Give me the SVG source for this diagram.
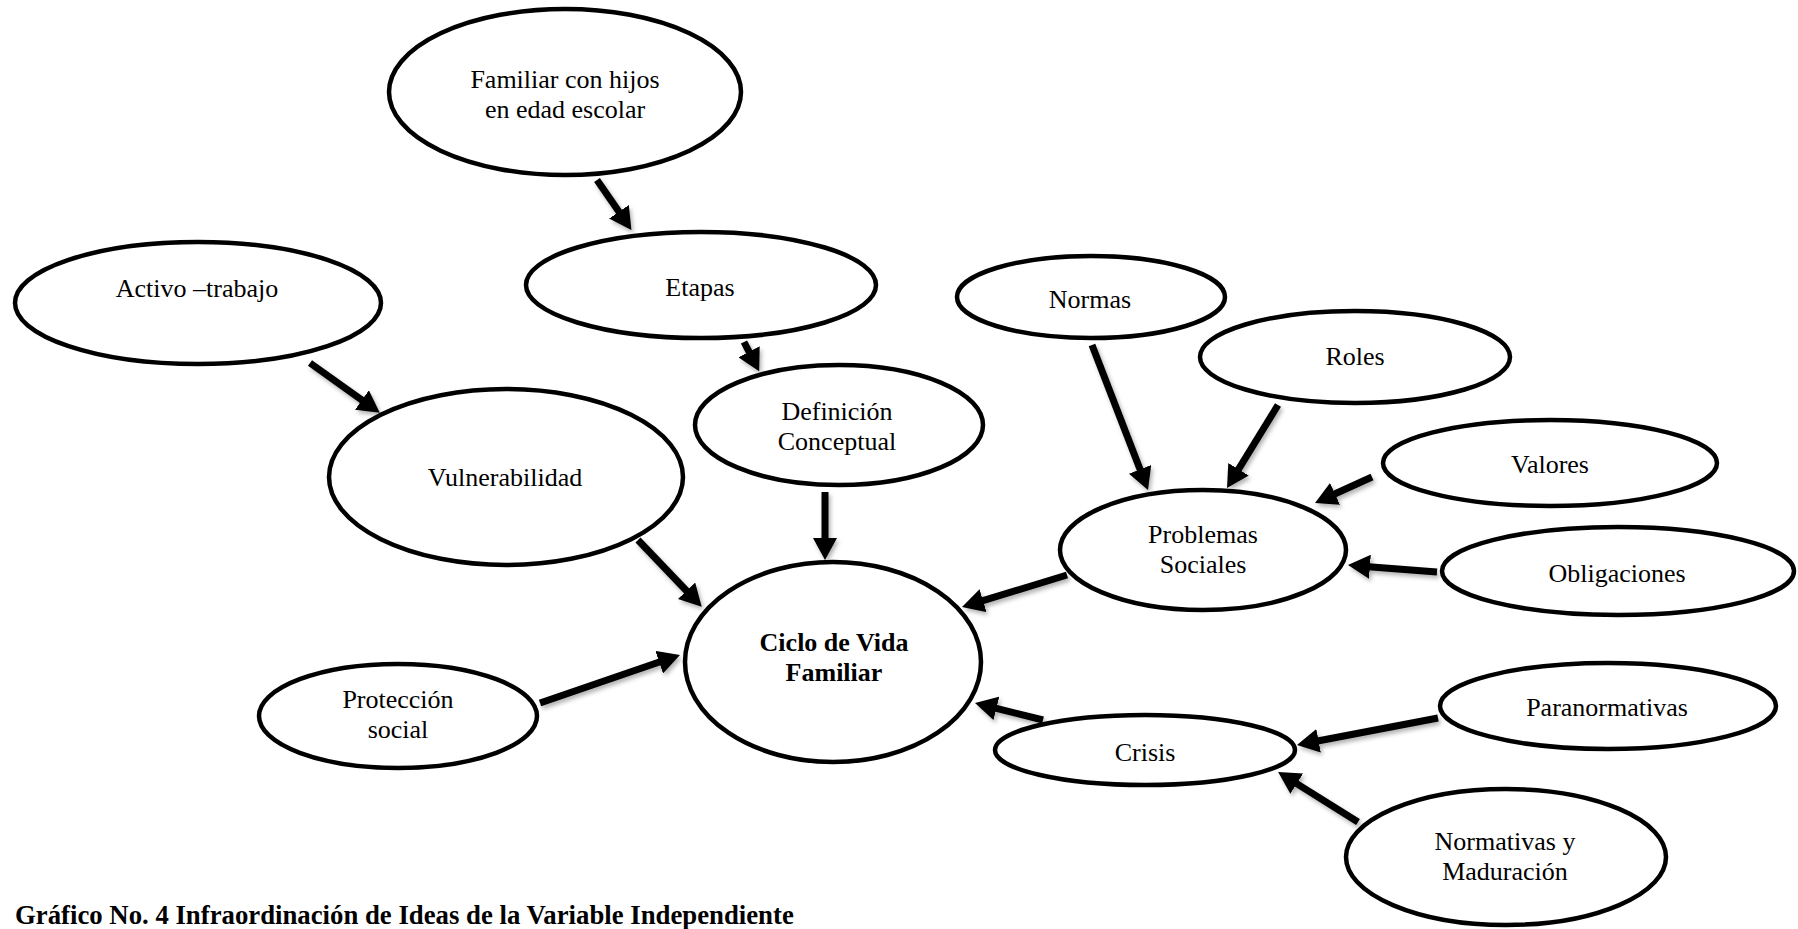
<svg xmlns="http://www.w3.org/2000/svg" width="1798" height="929" viewBox="0 0 1798 929">
<style>
.node ellipse{fill:#fff;stroke:#000;stroke-width:4.5}
.node text{font-family:"Liberation Serif","Times New Roman",serif;font-size:26px;fill:#000;text-anchor:middle}
.node text.b{font-weight:bold}
#connectors line{stroke:#000;stroke-width:7;stroke-linecap:butt;marker-end:url(#ah)}
.caption{font-family:"Liberation Serif","Times New Roman",serif;font-size:26.75px;font-weight:bold;fill:#000}
</style>
<defs>
<marker id="ah" markerUnits="userSpaceOnUse" markerWidth="22" markerHeight="24" viewBox="0 0 22 24" refX="1" refY="12" orient="auto">
<path d="M0,0 L22,12 L0,24 z" fill="#000"/>
</marker>
<filter id="sh" x="-20%" y="-20%" width="140%" height="140%">
<feDropShadow dx="2" dy="3" stdDeviation="2" flood-color="#000" flood-opacity="0.3"/>
</filter>
</defs>
<rect width="1798" height="929" fill="#fff"/>
<g id="connectors" filter="url(#sh)">
<line x1="597" y1="180" x2="619.5" y2="212.6"/>
<line x1="744" y1="342" x2="749.5" y2="352.6"/>
<line x1="825" y1="492" x2="825" y2="539"/>
<line x1="310" y1="363" x2="362.7" y2="400.6"/>
<line x1="638" y1="540" x2="687.2" y2="591.5"/>
<line x1="540" y1="703" x2="660.1" y2="661.8"/>
<line x1="1092" y1="345" x2="1140.4" y2="470.3"/>
<line x1="1278" y1="405" x2="1238" y2="470.2"/>
<line x1="1372" y1="477" x2="1334.1" y2="494.3"/>
<line x1="1437" y1="572" x2="1368.9" y2="566.7"/>
<line x1="1067" y1="575" x2="982.1" y2="600.9"/>
<line x1="1043" y1="720" x2="995.4" y2="708.1"/>
<line x1="1438" y1="718" x2="1317.6" y2="741"/>
<line x1="1358" y1="822" x2="1295.9" y2="783.1"/>
</g>
<g id="n-familiar" class="node"><ellipse cx="565" cy="92" rx="176" ry="83"/><text x="565" y="88">Familiar con hijos</text><text x="565" y="118">en edad escolar</text></g>
<g id="n-etapas" class="node"><ellipse cx="701" cy="285" rx="175" ry="53"/><text x="700" y="296">Etapas</text></g>
<g id="n-definicion" class="node"><ellipse cx="839" cy="425" rx="144" ry="60"/><text x="837" y="420">Definición</text><text x="837" y="450">Conceptual</text></g>
<g id="n-activo" class="node"><ellipse cx="198" cy="303" rx="183" ry="61"/><text x="197" y="297">Activo –trabajo</text></g>
<g id="n-vulnerabilidad" class="node"><ellipse cx="506" cy="477" rx="177" ry="88"/><text x="505" y="486">Vulnerabilidad</text></g>
<g id="n-ciclo" class="node"><ellipse cx="833" cy="662" rx="148" ry="100"/><text class="b" x="834" y="651">Ciclo de Vida</text><text class="b" x="834" y="681">Familiar</text></g>
<g id="n-proteccion" class="node"><ellipse cx="398" cy="716" rx="139" ry="52"/><text x="398" y="708">Protección</text><text x="398" y="738">social</text></g>
<g id="n-normas" class="node"><ellipse cx="1091" cy="297" rx="134" ry="41"/><text x="1090" y="308">Normas</text></g>
<g id="n-roles" class="node"><ellipse cx="1355" cy="357" rx="155" ry="46"/><text x="1355" y="365">Roles</text></g>
<g id="n-problemas" class="node"><ellipse cx="1203" cy="550" rx="143" ry="60"/><text x="1203" y="543">Problemas</text><text x="1203" y="573">Sociales</text></g>
<g id="n-valores" class="node"><ellipse cx="1550" cy="463" rx="167" ry="43"/><text x="1550" y="473">Valores</text></g>
<g id="n-obligaciones" class="node"><ellipse cx="1618" cy="571" rx="176" ry="44"/><text x="1617" y="582">Obligaciones</text></g>
<g id="n-crisis" class="node"><ellipse cx="1145" cy="750" rx="150" ry="35"/><text x="1145" y="761">Crisis</text></g>
<g id="n-paranormativas" class="node"><ellipse cx="1608" cy="706" rx="168" ry="43"/><text x="1607" y="716">Paranormativas</text></g>
<g id="n-normativas" class="node"><ellipse cx="1506" cy="857" rx="160" ry="68"/><text x="1505" y="850">Normativas y</text><text x="1505" y="880">Maduración</text></g>
<text class="caption" x="15" y="924">Gráfico No. 4 Infraordinación de Ideas de la Variable Independiente</text>
</svg>
